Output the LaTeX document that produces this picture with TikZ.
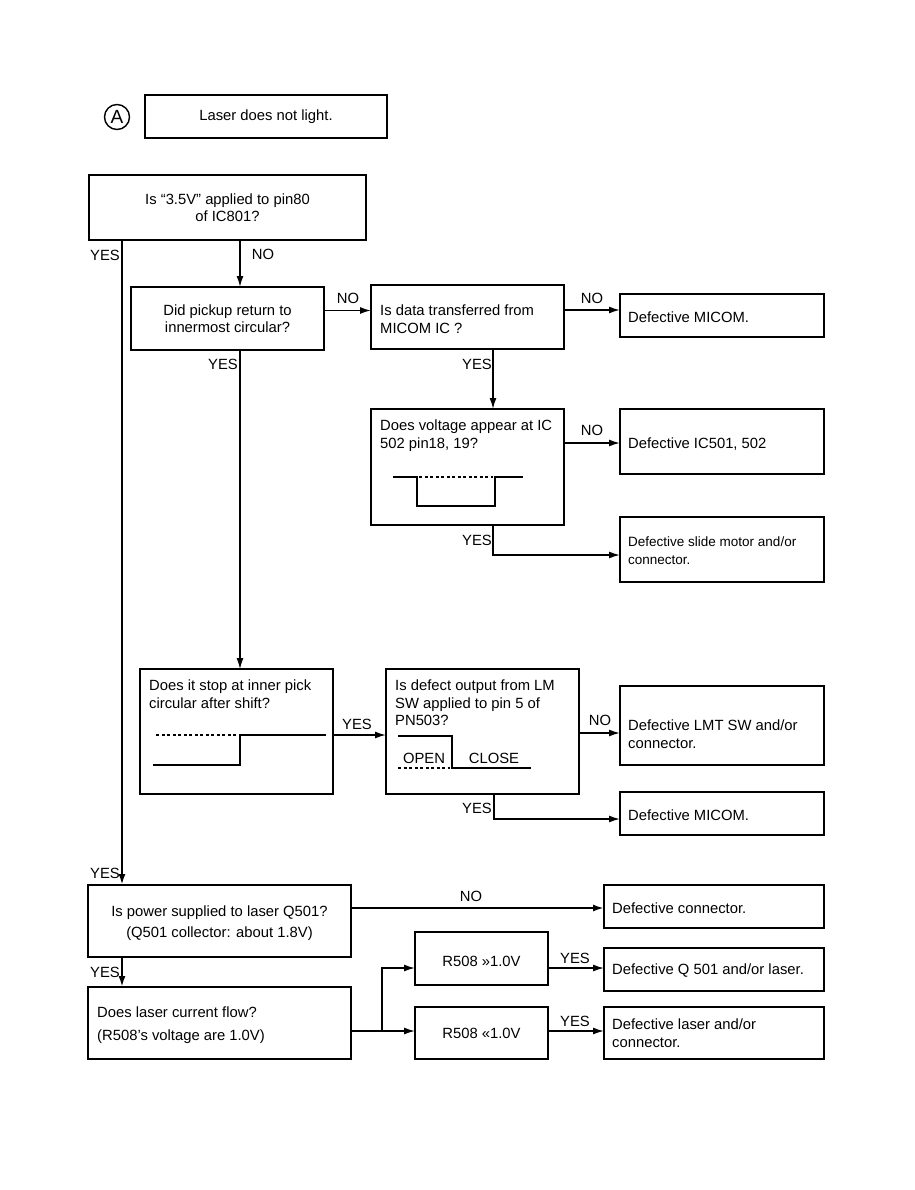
\documentclass[tikz,border=0pt]{standalone}
\usepackage{fontspec}
\setmainfont{Liberation Sans}
\usetikzlibrary{arrows.meta}
\begin{document}
\begin{tikzpicture}[x=1pt,y=-1pt,
  font=\fontsize{14.8}{17.5}\selectfont,
  box/.style={draw,line width=1.8pt,rectangle,anchor=north west,inner sep=0pt,outer sep=0pt},
  txt/.style={anchor=north west,inner sep=0pt,align=left},
  ctxt/.style={inner sep=0pt,align=center},
  lbl/.style={inner sep=0pt},
  conn/.style={line width=1.5pt},
  arr/.style={line width=1.5pt,-{Latex[length=11pt,width=7pt]}},
  wave/.style={line width=2pt},
  wdash/.style={line width=1.8pt,dash pattern=on 3pt off 2.5pt}]
\useasboundingbox (0,0) rectangle (914,1190);

% start
\node[draw,circle,line width=1.4pt,inner sep=0pt,minimum size=25pt,font=\fontsize{19}{19}\selectfont] (circA) at (117,117) {A};
\node[box,minimum width=242,minimum height=43] (start) at (145,95) {};
\node[ctxt] (startt) at (start.center) {Laser does not light.};

% Q1
\node[box,minimum width=277,minimum height=65] (q1) at (89,175) {};
\node[ctxt] (q1t) at (q1.center) {Is “3.5V” applied to pin80\\of IC801?};

% Q2
\node[box,minimum width=193,minimum height=63] (q2) at (131,287) {};
\node[ctxt] (q2t) at (q2.center) {Did pickup return to\\innermost circular?};

% Q3
\node[box,minimum width=193,minimum height=64] (q3) at (371,285) {};
\node[txt] (q3t) at (380,305) {Is data transferred from\\MICOM IC ?};

% R MICOM 1
\node[box,minimum width=204,minimum height=43] (r1) at (620,294) {};
\node[txt,anchor=west] (r1t) at (628,317) {Defective MICOM.};

% Q4 voltage
\node[box,minimum width=193,minimum height=116] (q4) at (371,409) {};
\node[txt] (q4t) at (380,420) {Does voltage appear at IC\\502 pin18, 19?};
\draw[wave] (393,477) -- (417,477) -- (417,506) -- (495,506) -- (495,477) -- (523,477);
\draw[wdash] (419,477) -- (493,477);

% R IC501
\node[box,minimum width=204,minimum height=65] (r2) at (620,409) {};
\node[txt,anchor=west] (r2t) at (628,444) {Defective IC501, 502};

% R slide motor
\node[box,minimum width=204,minimum height=65] (r3) at (620,517) {};
\node[txt,font=\fontsize{13.5}{18}\selectfont] (r3t) at (628,537) {Defective slide motor and/or\\connector.};

% Q5 inner pick
\node[box,minimum width=193,minimum height=125] (q5) at (140,669) {};
\node[txt] (q5t) at (149,680) {Does it stop at inner pick\\circular after shift?};
\draw[wdash] (156,735) -- (238,735);
\draw[wave] (153,765) -- (240,765) -- (240,735) -- (326,735);

% Q6 LM SW
\node[box,minimum width=193,minimum height=125] (q6) at (386,669) {};
\node[txt] (q6t) at (395,680) {Is defect output from LM\\SW applied to pin 5 of\\PN503?};
\draw[wave] (398,736) -- (452,736) -- (452,768) -- (531,768);
\draw[wdash] (398,768) -- (450,768);
\node[lbl] (open) at (424,758) {OPEN};
\node[lbl] (close) at (494,758) {CLOSE};

% R LMT SW
\node[box,minimum width=204,minimum height=79] (r4) at (620,686) {};
\node[txt] (r4t) at (628,720) {Defective LMT SW and/or\\connector.};

% R MICOM 2
\node[box,minimum width=204,minimum height=43] (r5) at (620,792) {};
\node[txt,anchor=west] (r5t) at (628,815) {Defective MICOM.};

% Q7 power
\node[box,minimum width=263,minimum height=72] (q7) at (88,885) {};
\node[ctxt] (q7t) at ([yshift=-2]q7.center) {Is power supplied to laser Q501?\\[4pt](Q501 collector: about 1.8V)};

% R connector
\node[box,minimum width=220,minimum height=43] (r6) at (604,885) {};
\node[txt,anchor=west] (r6t) at (612,908) {Defective connector.};

% Q8 current
\node[box,minimum width=263,minimum height=72] (q8) at (88,987) {};
\node[txt] (q8t) at (97,1007) {Does laser current flow?\\[5pt](R508’s voltage are 1.0V)};

% R508 boxes
\node[box,minimum width=133,minimum height=53] (v1) at (415,932) {};
\node[ctxt] (v1t) at ([yshift=-3]v1.center) {R508 »1.0V};
\node[box,minimum width=133,minimum height=52] (v2) at (415,1007) {};
\node[ctxt] (v2t) at (v2.center) {R508 «1.0V};

% results
\node[box,minimum width=220,minimum height=43] (r7) at (604,948) {};
\node[txt,anchor=west] (r7t) at (612,971) {Defective Q 501 and/or laser.};
\node[box,minimum width=220,minimum height=52] (r8) at (604,1007) {};
\node[txt] (r8t) at (612,1019) {Defective laser and/or\\connector.};

% ---------- connectors ----------
\coordinate (q1yes) at (122,240);
\draw[arr,line width=2.2pt] (q1yes) -- (q1yes |- q7.north);
\node[lbl,anchor=east] (l1) at (120,255) {YES};
\node[lbl,anchor=east] (l2) at (120,873) {YES};

\draw[arr] (q1.south -| 240,0) -- (q2.north -| 240,0);
\node[lbl] (l3) at (263,254) {NO};

\draw[arr] ([yshift=8]q2.east) -- ([yshift=8]q2.east -| q3.west);
\node[lbl] (l4) at (348,298) {NO};

\draw[arr] ([yshift=7]q3.east) -- ([yshift=7]q3.east -| r1.west);
\node[lbl] (l5) at (592,298) {NO};

\draw[arr] (q3.south -| 493,0) -- (q4.north -| 493,0);
\node[lbl] (l6) at (477,364) {YES};

\draw[arr] ([yshift=24]q4.east) -- ([yshift=24]q4.east -| r2.west);
\node[lbl] (l7) at (592,430) {NO};

\coordinate (q4c) at (493,555);
\draw[arr] (q4.south -| q4c) -- (q4c) -- (q4c -| r3.west);
\node[lbl] (l8) at (477,540) {YES};

\draw[arr,line width=1.2pt] (q2.south -| 240,0) -- (q5.north -| 240,0);
\node[lbl] (l9) at (223,364) {YES};

\draw[arr] (q5.east |- 0,735) -- (q6.west |- 0,735);
\node[lbl] (l10) at (357,724) {YES};

\draw[arr] (q6.east |- 0,733) -- (r4.west |- 0,733);
\node[lbl] (l11) at (600,720) {NO};

\coordinate (q6c) at (494,819);
\draw[arr] (q6.south -| q6c) -- (q6c) -- (q6c -| r5.west);
\node[lbl] (l12) at (477,808) {YES};

\draw[arr,line width=2pt] (q7.east |- 0,908) -- (r6.west |- 0,908);
\node[lbl] (l13) at (471,896) {NO};

\draw[arr,line width=2pt] (q7.south -| 122,0) -- (q8.north -| 122,0);
\node[lbl,anchor=east] (l14) at (120,972) {YES};

\coordinate (split) at (382,1031);
\draw[conn] (q8.east |- split) -- (split);
\draw[arr] (split) -- (split |- 0,968) -- (v1.west |- 0,968);
\draw[arr] (split) -- (split -| v2.west);

\draw[arr] (v1.east |- 0,968) -- (r7.west |- 0,968);
\node[lbl] (l15) at (575,958) {YES};
\draw[arr] (v2.east |- 0,1031) -- (r8.west |- 0,1031);
\node[lbl] (l16) at (575,1021) {YES};
\end{tikzpicture}
\end{document}
